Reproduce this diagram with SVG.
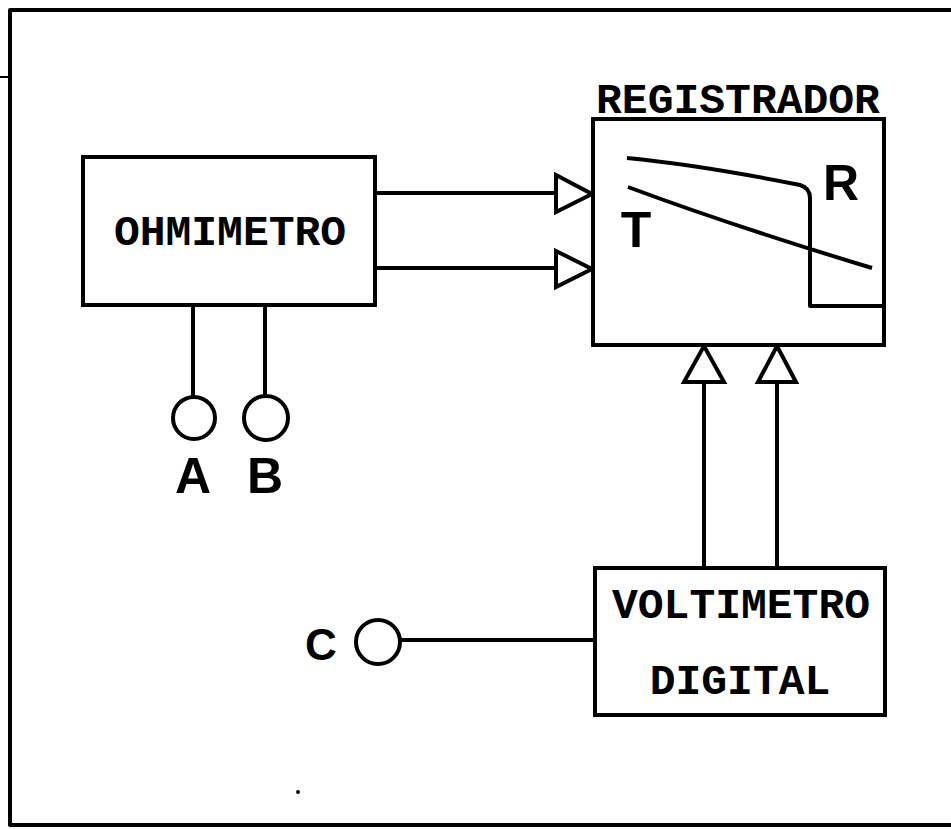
<svg xmlns="http://www.w3.org/2000/svg" width="951" height="829" viewBox="0 0 951 829">
<style>
.ln{fill:none;stroke:#000;stroke-width:4;stroke-linejoin:round}
.box{fill:#fff;stroke:#000;stroke-width:4}
.tri{fill:#fff;stroke:#000;stroke-width:4;stroke-linejoin:miter}
.lbl{font-family:"Liberation Mono",monospace;font-weight:bold;font-size:43px;fill:#000;text-anchor:middle}
.sym{font-family:"Liberation Sans",Arial,sans-serif;font-weight:bold;fill:#000;text-anchor:middle}
.term{fill:#fff;stroke:#000;stroke-width:4}
</style>
<rect width="951" height="829" fill="#fff"/>
<g id="frame">
<path class="ln" d="M951,10 L10,10 L10,825 L951,825" stroke-width="4.5"/>
<line x1="0" y1="77" x2="8" y2="77" stroke="#000" stroke-width="2"/>
<circle cx="298" cy="792" r="2" fill="#000"/>
</g>
<g id="connectors">
<line class="ln" x1="375" y1="193" x2="557" y2="193"/>
<line class="ln" x1="375" y1="268" x2="557" y2="268"/>
<polygon class="tri" points="556,175 592,194 556,212"/>
<polygon class="tri" points="556,251 592,269 556,287"/>
<line class="ln" x1="704" y1="568" x2="704" y2="380"/>
<line class="ln" x1="777" y1="568" x2="777" y2="380"/>
<polygon class="tri" points="684,382 704,346 724,382"/>
<polygon class="tri" points="758,382 777,346 796,382"/>
<line class="ln" x1="193" y1="305" x2="193" y2="397"/>
<line class="ln" x1="265" y1="305" x2="265" y2="397"/>
<line class="ln" x1="400" y1="640" x2="595" y2="640"/>
</g>
<g id="ohmimetro">
<rect class="box" x="83" y="157" width="292" height="148"/>
<text class="lbl" x="230" y="245">OHMIMETRO</text>
</g>
<g id="registrador">
<rect class="box" x="593" y="119" width="291" height="226"/>
<text class="lbl" x="738" y="113">REGISTRADOR</text>
<path class="ln" d="M627,158 Q700,165 800,185 Q810,188 810,198 L810,306 L884,306"/>
<path class="ln" d="M628,187 Q730,225 872,268"/>
<text class="sym" x="636" y="247" font-size="50">T</text>
<text class="sym" x="841" y="200" font-size="50">R</text>
</g>
<g id="voltimetro">
<rect class="box" x="595" y="568" width="290" height="147"/>
<text class="lbl" x="741" y="618">VOLTIMETRO</text>
<text class="lbl" x="740" y="694">DIGITAL</text>
</g>
<g id="terminal-a">
<circle class="term" cx="194" cy="418" r="21"/>
<text class="sym" x="193" y="493" font-size="50">A</text>
</g>
<g id="terminal-b">
<circle class="term" cx="266" cy="418" r="22"/>
<text class="sym" x="265" y="493" font-size="50">B</text>
</g>
<g id="terminal-c">
<circle class="term" cx="378" cy="642" r="22"/>
<text class="sym" x="321" y="660" font-size="44">C</text>
</g>
</svg>
